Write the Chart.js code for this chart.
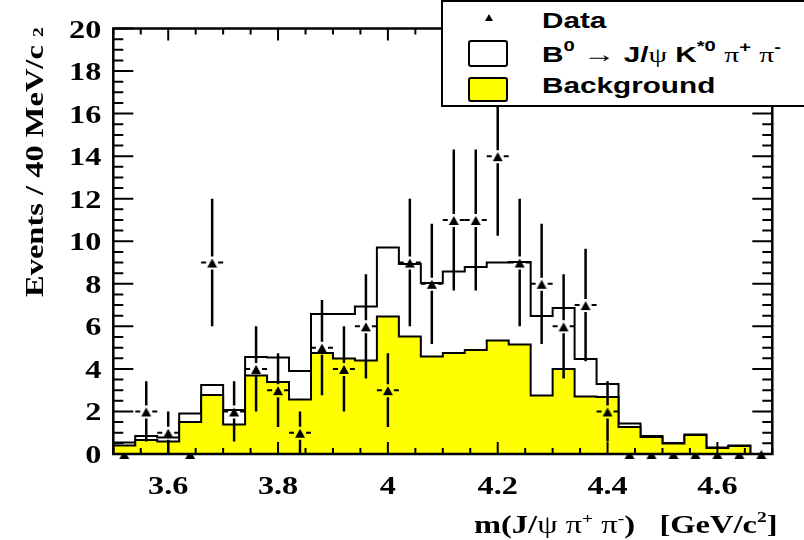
<!DOCTYPE html>
<html>
<head>
<meta charset="utf-8">
<script src="https://cdn.jsdelivr.net/npm/chart.js@4.4.1/dist/chart.umd.min.js"></script>
<style>
  html, body { margin: 0; padding: 0; background: #fff; }
  #wrap { position: relative; width: 804px; height: 540px; overflow: hidden; background: #fff; }
  #c { position: absolute; left: 0; top: 0; }
  .txt { position: absolute; white-space: nowrap; color: #000; }
  .serif { font-family: "Liberation Serif", "Times New Roman", serif; font-weight: bold; font-size: 25px; line-height: 25px; }
  .sans { font-family: "Liberation Sans", Arial, sans-serif; font-weight: bold; font-size: 22px; line-height: 22px; }
  .sym { font-family: "Liberation Serif", "Times New Roman", serif; font-weight: normal; }
  .wide { transform-origin: 0 0; transform: scaleX(1.35); }
  #xtitle { transform-origin: 100% 0; transform: scaleX(1.3); }
  #ytitle { transform-origin: 0 0; transform: rotate(-90deg) scaleX(1.3); }
  #legendBox { position: absolute; left: 441px; top: 0; width: 400px; height: 107px; box-sizing: border-box;
               border: 2px solid #000; background: #fff; }
  .swatch { position: absolute; box-sizing: border-box; border: 2px solid #000; border-radius: 3px; }
  #legendMarker { position: absolute; left: 485px; top: 14px; width: 0; height: 0;
                  border-left: 4px solid transparent; border-right: 4px solid transparent; border-bottom: 7px solid #000; }
</style>
</head>
<body>
<div id="wrap">
  <canvas id="c" width="804" height="540"></canvas>

  <div id="ytitle" class="txt serif" style="left:22px; top:297px;">Events / 40 MeV/c&nbsp;<span style="font-size:15px">2</span></div>

  <div id="xtitle" class="txt serif" style="right:27px; top:512px;">m(J/<span class="sym">ψ</span> <span class="sym">π</span><span style="font-size:15px;position:relative;top:-10px">+</span> <span class="sym">π</span><span style="font-size:15px;position:relative;top:-10px">-</span>)&nbsp;&nbsp;&nbsp;[GeV/c<span style="font-size:15px;position:relative;top:-11px">2</span>]</div>

  <div id="legendBox"></div>
  <div id="legendMarker"></div>
  <div class="swatch" style="left:468px; top:40px; width:40px; height:27px; background:#fff;"></div>
  <div class="swatch" style="left:468px; top:77px; width:40px; height:25px; background:#ffff00;"></div>
  <div class="txt sans wide" style="left:542px; top:10px;">Data</div>
  <div class="txt sans wide" style="left:542px; top:43px;">B<span style="font-size:15px;position:relative;top:-11px">0</span> <span class="sym" style="font-size:24px">→</span> J/<span class="sym">ψ</span> K<span style="font-size:15px;position:relative;top:-11px">*0</span> <span class="sym">π</span><span style="font-size:15px;position:relative;top:-10px">+</span> <span class="sym">π</span><span style="font-size:15px;position:relative;top:-10px">-</span></div>
  <div class="txt sans wide" style="left:542px; top:75px;">Background</div>
</div>

<script>
// m(J/psi pi+ pi-) bin edges in GeV/c^2 (40 MeV bins)
const binEdges = [3.50, 3.54, 3.58, 3.62, 3.66, 3.70, 3.74, 3.78, 3.82, 3.86,
                  3.90, 3.94, 3.98, 4.02, 4.06, 4.10, 4.14, 4.18, 4.22, 4.26,
                  4.30, 4.34, 4.38, 4.42, 4.46, 4.50, 4.54, 4.58, 4.62, 4.66, 4.70];

// observed events per bin
const dataCounts = [0, 2, 1, 0, 9, 2, 4, 3, 1, 5,
                    4, 6, 3, 9, 8, 11, 11, 14, 9, 8,
                    6, 7, 2, 0, 0, 0, 0, 0, 0, 0];

// expected events: signal B0 -> J/psi K*0 pi+ pi- stacked on background
const totalExpected = [0.54, 0.85, 0.78, 1.90, 3.24, 2.07, 4.56, 4.54, 3.90, 6.58,
                       6.58, 6.93, 9.71, 8.93, 8.04, 8.58, 8.79, 9.00, 9.02, 6.49,
                       6.86, 4.47, 3.29, 1.43, 0.85, 0.52, 0.92, 0.31, 0.40, 0.00];

// expected background alone
const backgroundExpected = [0.40, 0.66, 0.59, 1.50, 2.77, 1.39, 3.69, 3.38, 2.56, 4.75,
                            4.49, 4.39, 6.46, 5.52, 4.58, 4.75, 4.89, 5.33, 5.15, 2.75,
                            4.00, 2.70, 2.68, 1.27, 0.80, 0.49, 0.89, 0.28, 0.38, 0.00];

const xTickValues = [3.6, 3.8, 4.0, 4.2, 4.4, 4.6];
const xTickLabels = ['3.6', '3.8', '4', '4.2', '4.4', '4.6'];
const yTickValues = [0, 2, 4, 6, 8, 10, 12, 14, 16, 18, 20];
const yTickLabels = ['0', '2', '4', '6', '8', '10', '12', '14', '16', '18', '20'];

// histogram outline as step points at the upper bin edges
function stepPoints(values) {
  const pts = [{ x: binEdges[0], y: 0 }];
  values.forEach((v, i) => pts.push({ x: binEdges[i + 1], y: v }));
  pts.push({ x: binEdges[binEdges.length - 1], y: 0 });
  return pts;
}

const binCenters = dataCounts.map((_, i) => (binEdges[i] + binEdges[i + 1]) / 2);
const filledBins = [], emptyBins = [];
dataCounts.forEach((n, i) => (n > 0 ? filledBins : emptyBins).push({ x: binCenters[i], y: n }));

// upward triangle marker, slightly below-centred like the classic ROOT marker
function triangleMarker(w, up, down) {
  const c = document.createElement('canvas');
  c.width = 14; c.height = 14;
  const g = c.getContext('2d');
  const cx = 7, cy = 7;
  g.fillStyle = '#000';
  g.beginPath();
  g.moveTo(cx, cy - up);
  g.lineTo(cx + w / 2, cy + down);
  g.lineTo(cx - w / 2, cy + down);
  g.closePath();
  g.fill();
  return c;
}
const marker = triangleMarker(10, 4, 5);

const SERIF_BOLD = 'bold 26px "Liberation Serif", "Times New Roman", serif';
const STRETCH = 1.24;

const framePlugin = {
  id: 'framePlugin',
  afterDatasetsDraw(chart) {
    const { ctx, chartArea: a, scales: { x, y } } = chart;
    ctx.save();
    ctx.strokeStyle = '#000';
    ctx.lineCap = 'butt';

    // error bars (sqrt N), with a gap around the marker
    const half = (binEdges[1] - binEdges[0]) / 2;
    filledBins.forEach(p => {
      const err = Math.sqrt(p.y);
      const px = x.getPixelForValue(p.x);
      const py = y.getPixelForValue(p.y);
      const top = y.getPixelForValue(p.y + err);
      const bot = y.getPixelForValue(p.y - err);
      ctx.lineWidth = 2.5;
      ctx.beginPath();
      if (top < py - 6) { ctx.moveTo(px, top); ctx.lineTo(px, py - 6); }
      if (bot > py + 7) { ctx.moveTo(px, py + 7); ctx.lineTo(px, bot); }
      ctx.stroke();
      ctx.lineWidth = 2;
      ctx.beginPath();
      ctx.moveTo(x.getPixelForValue(p.x - half), py); ctx.lineTo(px - 6, py);
      ctx.moveTo(px + 6, py); ctx.lineTo(x.getPixelForValue(p.x + half), py);
      ctx.stroke();
    });

    // inward ticks on all four sides
    ctx.lineWidth = 2;
    ctx.beginPath();
    for (let k = 0; k <= 40; k++) {
      const v = k * 0.5;
      const py = y.getPixelForValue(v);
      const len = (k % 4 === 0) ? 20 : 10;
      ctx.moveTo(a.left, py); ctx.lineTo(a.left + len, py);
      ctx.moveTo(a.right, py); ctx.lineTo(a.right - len, py);
    }
    for (let k = 0; k <= 24; k++) {
      const v = 3.5 + k * 0.05;
      const px = x.getPixelForValue(v);
      const len = ((k - 2) % 4 === 0) ? 12 : 6;
      ctx.moveTo(px, a.bottom); ctx.lineTo(px, a.bottom - len);
      ctx.moveTo(px, a.top); ctx.lineTo(px, a.top + len);
    }
    ctx.stroke();

    // frame
    ctx.lineWidth = 2.5;
    ctx.strokeRect(a.left, a.top, a.right - a.left, a.bottom - a.top);

    // tick labels (wide bold serif)
    ctx.fillStyle = '#000';
    ctx.font = SERIF_BOLD;
    ctx.textBaseline = 'alphabetic';
    yTickValues.forEach((v, i) => {
      ctx.save();
      ctx.translate(a.left - 12, y.getPixelForValue(v) + 9);
      ctx.scale(STRETCH, 1);
      ctx.textAlign = 'right';
      ctx.fillText(yTickLabels[i], 0, 0);
      ctx.restore();
    });
    xTickValues.forEach((v, i) => {
      ctx.save();
      ctx.translate(x.getPixelForValue(v), 494);
      ctx.scale(STRETCH, 1);
      ctx.textAlign = 'center';
      ctx.fillText(xTickLabels[i], 0, 0);
      ctx.restore();
    });
    ctx.restore();
  }
};

new Chart(document.getElementById('c'), {
  type: 'line',
  data: {
    datasets: [
      {
        label: 'Data',
        data: filledBins,
        showLine: false,
        pointStyle: marker,
        pointRadius: 6,
        order: 0,
        clip: false
      },
      {
        label: 'Background',
        data: stepPoints(backgroundExpected),
        stepped: 'after',
        borderColor: '#000',
        borderWidth: 2,
        backgroundColor: '#ffff00',
        fill: 'origin',
        pointRadius: 0,
        order: 1
      },
      {
        label: 'B0 → J/ψ K*0 π+ π-',
        data: stepPoints(totalExpected),
        stepped: 'after',
        borderColor: '#000',
        borderWidth: 2,
        backgroundColor: '#ffffff',
        fill: 'origin',
        pointRadius: 0,
        order: 2
      },
      {
        label: 'Data (empty bins)',
        data: emptyBins,
        showLine: false,
        pointStyle: marker,
        pointRadius: 6,
        order: 3,
        clip: false
      }
    ]
  },
  options: {
    responsive: false,
    animation: false,
    events: [],
    layout: { padding: { left: 0, right: 31.7, top: 28.5, bottom: 0 } },
    plugins: { legend: { display: false }, tooltip: { enabled: false } },
    scales: {
      x: {
        type: 'linear', min: 3.5, max: 4.7,
        ticks: { display: false },
        grid: { display: false },
        border: { display: false },
        afterFit(s) { s.height = 86; }
      },
      y: {
        type: 'linear', min: 0, max: 20,
        ticks: { display: false },
        grid: { display: false },
        border: { display: false },
        afterFit(s) { s.width = 113.3; }
      }
    }
  },
  plugins: [framePlugin]
});
</script>
</body>
</html>
